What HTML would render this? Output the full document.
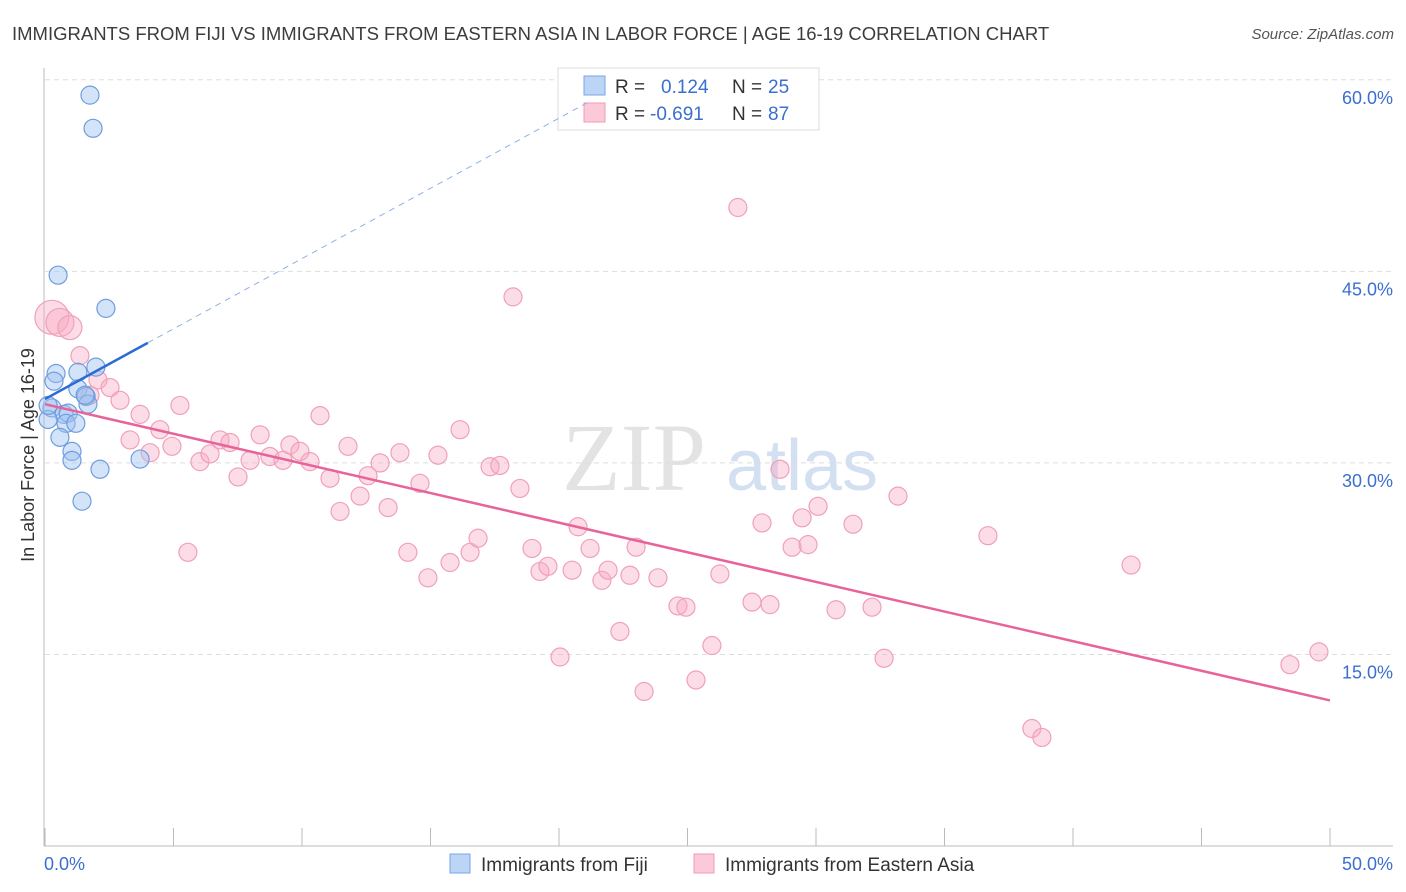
<!DOCTYPE html>
<html><head><meta charset="utf-8"><style>
body{margin:0;background:#fff;font-family:"Liberation Sans",sans-serif;}
svg{display:block}
</style></head><body>
<svg id="chart" width="1406" height="892" viewBox="0 0 1406 892" xmlns="http://www.w3.org/2000/svg">
<text x="12" y="40" font-size="18.5" fill="#3c3c3c">IMMIGRANTS FROM FIJI VS IMMIGRANTS FROM EASTERN ASIA IN LABOR FORCE | AGE 16-19 CORRELATION CHART</text>
<text x="1394" y="39" font-size="15" font-style="italic" fill="#555" text-anchor="end">Source: ZipAtlas.com</text>
<g>
<text x="634" y="490" font-size="96" font-family="Liberation Serif,serif" fill="#ddd" text-anchor="middle" opacity="0.8">ZIP</text>
<text x="802" y="490" font-size="72" fill="#c9d9ee" text-anchor="middle" opacity="0.8">atlas</text>
</g>
<g id="grid"></g>
<g id="axes"></g>
<g id="trend"></g>
<g id="pts"></g>
<text transform="translate(34,455) rotate(-90)" font-size="18" fill="#333" text-anchor="middle">In Labor Force | Age 16-19</text>
<g>
<rect x="558" y="68" width="261" height="62" fill="#fff" stroke="#ddd"/>
<rect x="584" y="76" width="21" height="19" fill="#bcd4f5" stroke="#7aa5e6"/>
<rect x="584" y="103" width="21" height="19" fill="#fcc9d8" stroke="#f09ab5"/>
<text x="615" y="93" font-size="19" fill="#333">R =</text>
<text x="661" y="93" font-size="19" fill="#3a6fd0">0.124</text>
<text x="732" y="93" font-size="19" fill="#333">N =</text>
<text x="768" y="93" font-size="19" fill="#3a6fd0">25</text>
<text x="615" y="120" font-size="19" fill="#333">R =</text>
<text x="650" y="120" font-size="19" fill="#3a6fd0">-0.691</text>
<text x="732" y="120" font-size="19" fill="#333">N =</text>
<text x="768" y="120" font-size="19" fill="#3a6fd0">87</text>
</g>
<g>
<rect x="450" y="854" width="20" height="19" fill="#bcd4f5" stroke="#7aa5e6"/>
<text x="481" y="871" font-size="19" fill="#333">Immigrants from Fiji</text>
<rect x="694" y="854" width="20" height="19" fill="#fcc9d8" stroke="#f09ab5"/>
<text x="725" y="871" font-size="19" fill="#333">Immigrants from Eastern Asia</text>
</g>
</svg>
<script>
const fijiX=[1.75,1.87,0.51,2.37,1.98,0.43,0.35,1.28,1.28,1.6,1.67,0.27,0.74,0.9,0.82,1.2,0.58,1.05,1.05,2.14,3.7,1.44,0.12,1.56,0.12];
const fijiY=[58.8,56.2,44.7,42.1,37.5,37.0,36.4,37.1,35.8,35.2,34.6,34.3,33.8,33.9,33.1,33.1,32.0,30.9,30.2,29.5,30.3,27.0,33.4,35.3,34.5];
const asiaX=[0.27,0.58,0.97,1.36,2.06,1.75,2.53,2.92,3.70,3.31,4.47,4.94,4.09,5.25,6.03,5.56,6.42,6.81,7.2,7.51,7.98,8.37,8.75,9.26,9.53,9.92,10.31,10.7,11.09,11.48,11.79,12.26,12.57,13.04,13.35,13.81,14.12,14.59,14.9,15.29,15.76,16.15,16.54,16.85,17.32,17.7,18.21,18.48,18.95,19.26,19.57,20.04,20.51,20.74,21.21,21.67,21.91,22.37,22.76,23.0,23.31,23.85,24.63,24.94,25.33,25.95,26.26,26.96,27.51,27.9,28.21,28.6,29.07,29.46,29.69,30.08,30.78,31.44,32.18,32.65,33.19,36.69,38.4,38.79,42.26,48.44,49.57];
const asiaY=[41.4,41.0,40.6,38.4,36.5,35.3,35.9,34.9,33.8,31.8,32.6,31.3,30.8,34.5,30.1,23.0,30.7,31.8,31.6,28.9,30.2,32.2,30.5,30.2,31.4,30.9,30.1,33.7,28.8,26.2,31.3,27.4,29.0,30.0,26.5,30.8,23.0,28.4,21.0,30.6,22.2,32.6,23.0,24.1,29.7,29.8,43.0,28.0,23.3,21.5,21.9,14.8,21.6,25.0,23.3,20.8,21.6,16.8,21.2,23.4,12.1,21.0,18.8,18.7,13.0,15.7,21.3,50.0,19.1,25.3,18.9,29.5,23.4,25.7,23.6,26.6,18.5,25.2,18.7,14.7,27.4,24.3,9.2,8.5,22.0,14.2,15.2];
const asiaR=[17,14,12];
const yTicks=[15,30,45,60];
const yTickLabels=["15.0%","30.0%","45.0%","60.0%"];
const xTicks=[0,5,10,15,20,25,30,35,40,45,50];
const fijiTrend=[35.0,1.1];   // intercept, slope
const asiaTrend=[34.6,-0.464];

const NS="http://www.w3.org/2000/svg";
const sx=v=>45+v*25.7;
const sy=v=>846-v*12.77;
function mk(tag,attrs,parent){const e=document.createElementNS(NS,tag);for(const k in attrs)e.setAttribute(k,attrs[k]);parent.appendChild(e);return e;}
const grid=document.getElementById('grid'),axes=document.getElementById('axes'),trend=document.getElementById('trend'),pts=document.getElementById('pts');
yTicks.forEach((t,i)=>{
  const l=mk('line',{x1:45,x2:1393,y1:sy(t),y2:sy(t),stroke:'#ddd','stroke-dasharray':'5,4'},grid);
  
  
  const tx=mk('text',{x:1393,y:sy(t)+24,'font-size':18,fill:'#3a6fd0','text-anchor':'end'},axes);
  tx.textContent=yTickLabels[i];
  
  
});
mk('line',{x1:44,x2:44,y1:68,y2:846,stroke:'#bbb'},axes);
mk('line',{x1:44,x2:1393,y1:846,y2:846,stroke:'#bbb'},axes);
xTicks.forEach(t=>{
  const l=mk('line',{x1:sx(t),x2:sx(t),y1:846,y2:828,stroke:'#bbb'},axes);
  
  
});
const x0=mk('text',{x:44,y:870,'font-size':18,fill:'#3a6fd0'},axes);x0.textContent='0.0%';


const x1=mk('text',{x:1393,y:870,'font-size':18,fill:'#3a6fd0','text-anchor':'end'},axes);x1.textContent='50.0%';



asiaX.forEach((x,i)=>{
  const c=mk('circle',{cx:sx(x),cy:sy(asiaY[i]),r:asiaR[i]||9,fill:'rgba(248,170,195,0.4)',stroke:'#f0a0b8','stroke-width':1.2},pts);
  
  
});
fijiX.forEach((x,i)=>{
  const c=mk('circle',{cx:sx(x),cy:sy(fijiY[i]),r:9,fill:'rgba(160,195,240,0.45)',stroke:'#6f9ce0','stroke-width':1.2},pts);
  
  
});
const fl=x=>fijiTrend[0]+fijiTrend[1]*x, al=x=>asiaTrend[0]+asiaTrend[1]*x;
const d1=mk('line',{x1:sx(4.0),y1:sy(fl(4.0)),x2:sx(21.2),y2:sy(fl(21.2)),stroke:'#8fb0e6','stroke-width':1,'stroke-dasharray':'6,5'},trend);


const s1=mk('line',{x1:sx(0),y1:sy(fl(0)),x2:sx(4.0),y2:sy(fl(4.0)),stroke:'#2a6bd4','stroke-width':2.5},trend);


const s2=mk('line',{x1:sx(0),y1:sy(al(0)),x2:sx(50),y2:sy(al(50)),stroke:'#e8639a','stroke-width':2.5},trend);


trend.parentNode.appendChild(trend);
</script>
</body></html>
